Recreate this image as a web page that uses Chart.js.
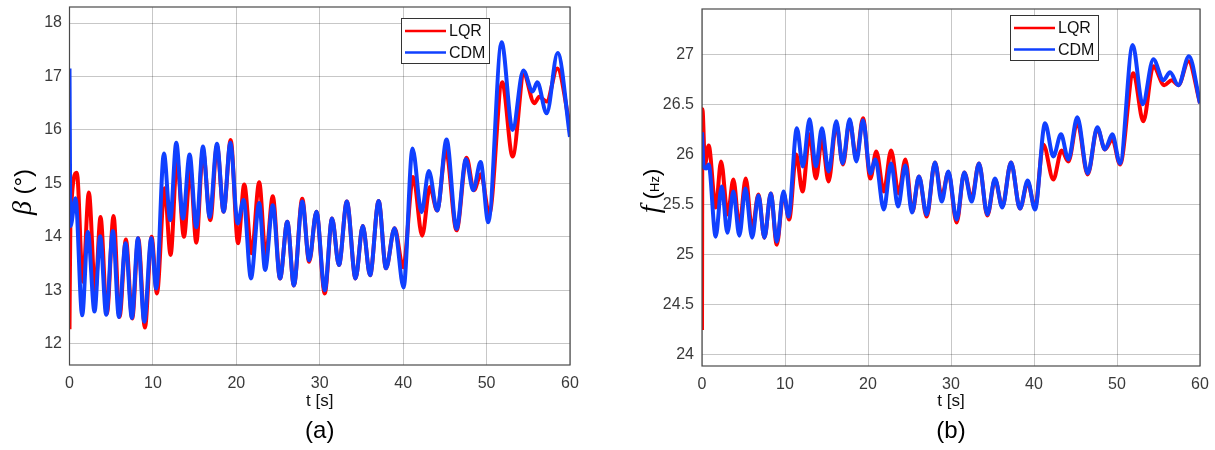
<!DOCTYPE html>
<html>
<head>
<meta charset="utf-8">
<script src="https://cdn.jsdelivr.net/npm/chart.js@4.4.1/dist/chart.umd.min.js"></script>
<style>
  html,body{margin:0;background:#fff}
  canvas{position:absolute;top:0}
  #pa{left:0}
  #pb{left:610px}
</style>
</head>
<body>
<canvas id="pa" width="600" height="450"></canvas>
<canvas id="pb" width="605" height="450"></canvas>
<script>
// [t (s), value] pairs, peaks and troughs of each response
const betaLqr = [[0,12.27],[0.1,14.2],[0.88,15.2],[1.6,13.16],[2.32,14.83],[3.08,12.97],[3.72,14.37],[4.48,12.56],[5.28,14.39],[6.0,12.5],[6.76,13.95],[7.52,12.47],[8.24,13.97],[9.04,12.3],[9.84,14.0],[10.48,12.94],[11.4,14.91],[12.12,13.66],[12.88,15.44],[13.72,14.0],[14.48,15.25],[15.2,13.89],[16.0,15.6],[16.88,14.31],[17.68,15.7],[18.48,14.47],[19.32,15.81],[20.2,13.88],[20.95,14.98],[21.83,13.69],[22.74,15.02],[23.53,13.63],[24.37,14.76],[25.24,13.22],[26.11,14.28],[26.9,13.09],[27.9,14.71],[28.73,13.53],[29.6,14.47],[30.6,12.94],[31.47,14.34],[32.3,13.47],[33.25,14.66],[34.29,13.22],[35.16,14.2],[36.03,13.28],[37.06,14.67],[37.94,13.41],[38.97,14.16],[40.0,13.43],[41.2,15.12],[42.28,14.02],[43.2,14.93],[44.08,14.49],[45.12,15.62],[46.4,14.12],[47.6,15.48],[48.48,14.87],[49.32,15.17],[50.32,14.43],[51.88,16.89],[53.12,15.5],[54.48,17.03],[55.72,16.5],[56.32,16.62],[57.2,16.53],[58.48,17.15],[60,16.06]]
const betaCdm = [[0,17.15],[0.12,14.2],[0.72,14.72],[1.52,12.53],[2.2,14.09],[3.0,12.6],[3.68,14.01],[4.4,12.54],[5.2,14.11],[5.92,12.5],[6.72,13.88],[7.48,12.48],[8.2,13.97],[8.96,12.41],[9.8,13.97],[10.4,13.03],[11.32,15.56],[12.08,14.31],[12.8,15.76],[13.6,14.34],[14.4,15.54],[15.2,14.18],[16.0,15.69],[16.8,14.37],[17.68,15.74],[18.48,14.47],[19.28,15.76],[20.16,14.25],[20.87,14.69],[21.75,13.22],[22.74,14.63],[23.45,13.38],[24.37,14.59],[25.24,13.22],[26.11,14.28],[26.9,13.09],[27.9,14.66],[28.73,13.56],[29.6,14.47],[30.6,13.0],[31.47,14.34],[32.3,13.47],[33.25,14.66],[34.29,13.22],[35.16,14.2],[36.03,13.28],[37.06,14.67],[37.94,13.41],[38.97,14.16],[40.05,13.05],[41.12,15.65],[42.2,14.46],[43.08,15.23],[44.08,14.49],[45.2,15.82],[46.4,14.15],[47.52,15.45],[48.4,14.87],[49.28,15.4],[50.2,14.27],[51.8,17.64],[53.12,16.0],[54.4,17.11],[55.52,16.72],[56.08,16.89],[57.2,16.31],[58.52,17.44],[60,15.87]]
const freqLqr = [[0,24.25],[0.05,26.45],[0.36,25.9],[0.8,26.09],[1.65,25.47],[2.3,25.93],[3.1,25.4],[3.78,25.75],[4.5,25.28],[5.27,25.76],[6.04,25.25],[6.8,25.6],[7.52,25.17],[8.29,25.61],[9.01,25.1],[9.82,25.61],[10.5,25.35],[11.35,26.0],[12.11,25.63],[12.96,26.2],[13.72,25.76],[14.45,26.15],[15.25,25.73],[16.18,26.3],[16.98,25.9],[17.79,26.33],[18.59,25.96],[19.4,26.36],[20.28,25.76],[21.0,26.03],[21.9,25.63],[22.78,26.04],[23.7,25.61],[24.5,25.95],[25.35,25.43],[26.14,25.78],[27.07,25.38],[28.07,25.92],[28.88,25.58],[29.68,25.82],[30.68,25.32],[31.6,25.82],[32.49,25.56],[33.37,25.91],[34.38,25.39],[35.3,25.75],[36.18,25.48],[37.23,25.92],[38.31,25.46],[39.24,25.72],[40.12,25.47],[41.12,26.1],[42.33,25.75],[43.33,26.04],[44.14,25.93],[45.22,26.32],[46.47,25.8],[47.63,26.26],[48.55,26.05],[49.44,26.15],[50.36,25.9],[51.97,26.81],[53.17,26.33],[54.38,26.88],[55.7,26.69],[56.59,26.74],[57.39,26.69],[58.6,26.93],[60,26.51]]
const freqCdm = [[0,26.22],[0.2,25.88],[0.5,25.86],[0.8,25.9],[1.65,25.18],[2.37,25.68],[3.06,25.22],[3.78,25.63],[4.5,25.19],[5.23,25.66],[6.04,25.17],[6.8,25.59],[7.52,25.17],[8.29,25.61],[9.01,25.13],[9.82,25.63],[10.42,25.38],[11.43,26.26],[12.15,25.88],[12.96,26.35],[13.72,25.88],[14.45,26.26],[15.25,25.83],[16.18,26.33],[16.94,25.91],[17.79,26.35],[18.59,25.93],[19.4,26.34],[20.28,25.81],[20.89,25.95],[21.9,25.45],[22.78,25.91],[23.62,25.48],[24.5,25.89],[25.3,25.42],[26.14,25.78],[27.07,25.4],[28.07,25.92],[28.88,25.53],[29.68,25.83],[30.68,25.35],[31.6,25.82],[32.49,25.53],[33.37,25.91],[34.38,25.4],[35.3,25.76],[36.18,25.47],[37.23,25.92],[38.31,25.46],[39.24,25.74],[40.12,25.45],[41.33,26.31],[42.33,25.98],[43.25,26.2],[44.14,25.95],[45.22,26.37],[46.47,25.81],[47.63,26.27],[48.55,26.05],[49.44,26.2],[50.36,25.91],[51.89,27.09],[53.09,26.5],[54.38,26.95],[55.58,26.74],[56.39,26.82],[57.39,26.69],[58.67,26.98],[60,26.51]]

const seriesNames = ['LQR', 'CDM']
const tTicks = [0, 10, 20, 30, 40, 50, 60]
const betaTicks = [12, 13, 14, 15, 16, 17, 18]
const freqTicks = [24, 24.5, 25, 25.5, 26, 26.5, 27]

const RED = '#ff0000'
const BLUE = '#1040ff'
const FONT = 'Arial, "Liberation Sans", sans-serif'
const TICK_COLOR = '#3a3a3a'
const GRID = 'rgba(0,0,0,0.22)'

// box, legend and rotated y label (mixed fonts, so drawn by hand)
const frame = {
  id: 'frame',
  afterDatasetsDraw(chart, _args, opts) {
    const {ctx, chartArea: a} = chart
    ctx.save()
    ctx.strokeStyle = '#4a4a4a'
    ctx.lineWidth = 1.2
    ctx.strokeRect(a.left, a.top, a.width, a.height)

    const bx = Math.round(a.left + opts.legendAt[0]) + 0.5
    const by = Math.round(a.top + opts.legendAt[1]) + 0.5
    ctx.fillStyle = '#fff'
    ctx.fillRect(bx, by, 88, 45)
    ctx.strokeStyle = '#333'
    ctx.lineWidth = 1
    ctx.strokeRect(bx, by, 88, 45)
    ctx.font = '16px ' + FONT
    ctx.textBaseline = 'middle'
    chart.data.datasets.forEach((ds, i) => {
      const y = by + 12.5 + i * 21.5
      ctx.strokeStyle = ds.borderColor
      ctx.lineWidth = 2.5
      ctx.beginPath()
      ctx.moveTo(bx + 3.5, y)
      ctx.lineTo(bx + 44.5, y)
      ctx.stroke()
      ctx.fillStyle = '#111'
      ctx.fillText(ds.label, bx + 47.5, y + 1)
    })

    const parts = opts.yLabel
    ctx.translate(opts.yLabelAt[0], opts.yLabelAt[1])
    ctx.rotate(-Math.PI / 2)
    ctx.fillStyle = '#000'
    ctx.textBaseline = 'alphabetic'
    let w = 0
    parts.forEach(([txt, f]) => { ctx.font = f; w += ctx.measureText(txt).width })
    let x = -w / 2
    parts.forEach(([txt, f]) => {
      ctx.font = f
      ctx.fillText(txt, x, 7)
      x += ctx.measureText(txt).width
    })
    ctx.restore()
  }
}

function panel(canvas, lqr, cdm, yTicks, o) {
  const pts = arr => arr.map(([x, y]) => ({x, y}))
  return new Chart(canvas, {
    type: 'line',
    data: {
      datasets: [
        {label: seriesNames[0], data: pts(lqr), borderColor: RED, order: 1},
        {label: seriesNames[1], data: pts(cdm), borderColor: BLUE, order: 0}
      ]
    },
    options: {
      responsive: false,
      animation: false,
      layout: {padding: o.pad},
      elements: {
        point: {radius: 0},
        line: {borderWidth: 4, cubicInterpolationMode: 'monotone', fill: false}
      },
      scales: {
        x: {
          type: 'linear', min: 0, max: 60,
          afterBuildTicks: ax => { ax.ticks = tTicks.map(value => ({value})) },
          afterFit: ax => { ax.height = o.xh; ax.paddingLeft = 0; ax.paddingRight = 0 },
          grid: {color: GRID, drawTicks: false},
          border: {display: false},
          ticks: {padding: 9, color: TICK_COLOR, font: {family: FONT, size: 16}, maxRotation: 0},
          title: {display: true, text: 't [s]', color: '#111', font: {family: FONT, size: 17}, padding: {top: 0, bottom: 6}}
        },
        y: {
          min: o.yMin, max: o.yMax,
          afterBuildTicks: ax => { ax.ticks = yTicks.map(value => ({value})) },
          afterFit: ax => { ax.width = o.yw; ax.paddingTop = 0; ax.paddingBottom = 0 },
          grid: {color: GRID, drawTicks: false},
          border: {display: false},
          ticks: {padding: o.ytp, color: TICK_COLOR, font: {family: FONT, size: 16}, callback: v => String(v)}
        }
      },
      plugins: {
        legend: {display: false},
        tooltip: {enabled: false},
        title: {display: true, position: 'bottom', fullSize: false, text: o.tag, color: '#000', font: {family: FONT, size: 24, weight: 'normal'}, padding: 0},
        frame: {legendAt: o.legendAt, yLabel: o.yLabel, yLabelAt: o.yLabelAt}
      }
    },
    plugins: [frame]
  })
}

panel(document.getElementById('pa'), betaLqr, betaCdm, betaTicks, {
  pad: {left: 0, top: 7, right: 30, bottom: 4},
  xh: 52.2, yw: 69.5, ytp: 7.5,
  yMin: 11.6, yMax: 18.3,
  tag: '(a)',
  legendAt: [331, 10.5],
  yLabel: [['β', 'italic 28px "Liberation Serif", serif'], [' (°)', '24px ' + FONT]],
  yLabelAt: [24, 192]
})

panel(document.getElementById('pb'), freqLqr, freqCdm, freqTicks, {
  pad: {left: 0, top: 9, right: 15, bottom: 4},
  xh: 51.2, yw: 92, ytp: 8,
  yMin: 23.89, yMax: 27.45,
  tag: '(b)',
  legendAt: [308, 6],
  yLabel: [['f', 'italic 28px "Liberation Serif", serif'], [' (', '22px ' + FONT], ['Hz', '13px ' + FONT], [')', '22px ' + FONT]],
  yLabelAt: [42, 191]
})
</script>
</body>
</html>
